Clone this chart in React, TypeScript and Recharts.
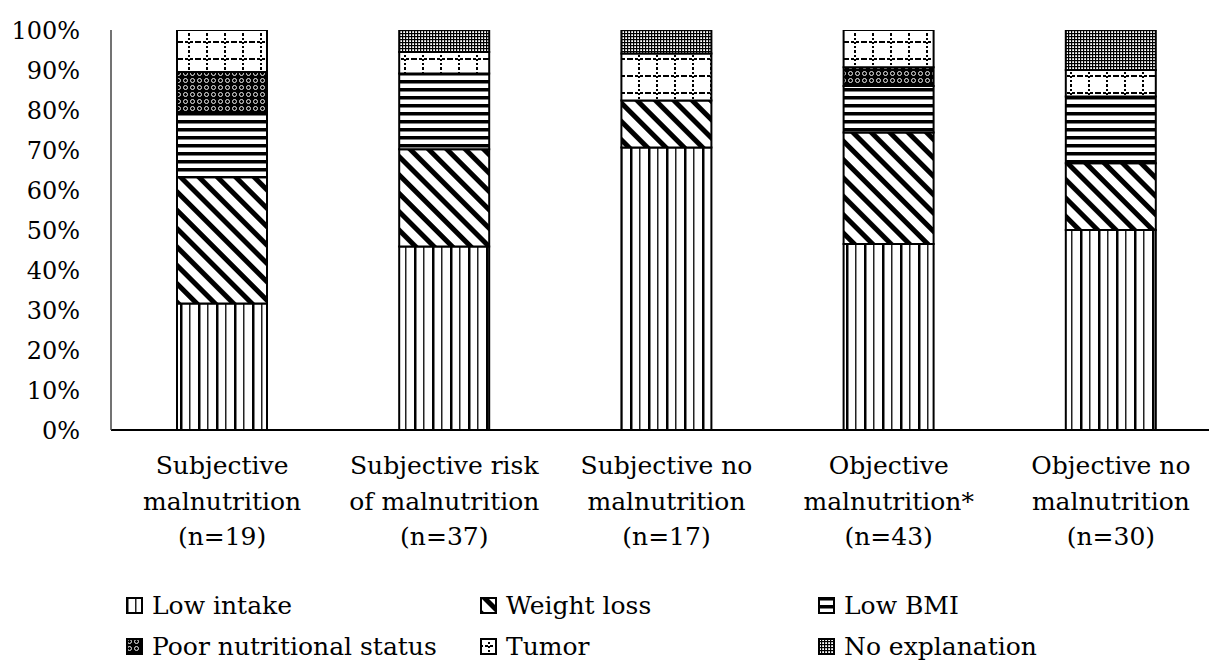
import { BarChart, Bar, XAxis, YAxis } from "recharts";

const categories = [
  "Subjective\nmalnutrition\n(n=19)",
  "Subjective risk\nof malnutrition\n(n=37)",
  "Subjective no\nmalnutrition\n(n=17)",
  "Objective\nmalnutrition*\n(n=43)",
  "Objective no\nmalnutrition\n(n=30)",
];

// percentages, stacked bottom -> top
const lowIntake = [31.6, 45.9, 70.6, 46.5, 50.0];
const weightLoss = [31.6, 24.3, 11.8, 27.9, 16.7];
const lowBmi = [15.8, 18.9, 0, 11.6, 16.7];
const poorStatus = [10.5, 0, 0, 4.7, 0];
const tumor = [10.5, 5.4, 11.7, 9.3, 6.6];
const noExplanation = [0, 5.5, 5.9, 0, 10.0];

const yTicks = [0, 10, 20, 30, 40, 50, 60, 70, 80, 90, 100];

const FONT = "'DejaVu Serif', serif";

const data = categories.map((name, i) => ({
  name,
  lowIntake: lowIntake[i],
  weightLoss: weightLoss[i],
  lowBmi: lowBmi[i],
  poorStatus: poorStatus[i],
  tumor: tumor[i],
  noExplanation: noExplanation[i],
}));

const series = [
  { key: "lowIntake", name: "Low intake", fill: "url(#pLow)" },
  { key: "weightLoss", name: "Weight loss", fill: "url(#pWeight)" },
  { key: "lowBmi", name: "Low BMI", fill: "url(#pBmi)" },
  { key: "poorStatus", name: "Poor nutritional status", fill: "url(#pPoor)" },
  { key: "tumor", name: "Tumor", fill: "url(#pTumor)" },
  { key: "noExplanation", name: "No explanation", fill: "url(#pNone)" },
];

// legend: 2 rows x 3 columns
const legendCols = [126, 480, 818];
const legendRows = [605, 646];

const Patterns = () => (
  <svg width={0} height={0} style={{ position: "absolute" }}>
    <defs>
      <pattern id="pLow" patternUnits="userSpaceOnUse" width={18} height={10}>
        <rect width={18} height={10} fill="#fff" />
        <rect x={0} width={2.5} height={10} fill="#000" />
        <rect x={9} width={1.5} height={10} fill="#222" />
      </pattern>
      <pattern
        id="pWeight"
        patternUnits="userSpaceOnUse"
        width={13}
        height={13}
        patternTransform="rotate(-45)"
      >
        <rect width={13} height={13} fill="#fff" />
        <rect x={0} width={5} height={13} fill="#000" />
      </pattern>
      <pattern id="pBmi" patternUnits="userSpaceOnUse" width={10} height={8}>
        <rect width={10} height={8} fill="#fff" />
        <rect y={0} width={10} height={3.5} fill="#000" />
      </pattern>
      <pattern id="pPoor" patternUnits="userSpaceOnUse" width={7} height={7}>
        <rect width={7} height={7} fill="#000" />
        <circle cx={3.5} cy={3.5} r={2} fill="none" stroke="#fff" strokeWidth={0.9} />
      </pattern>
      <pattern id="pTumor" patternUnits="userSpaceOnUse" width={18} height={17}>
        <rect width={18} height={17} fill="#fff" />
        <line x1={0} y1={8} x2={18} y2={8} stroke="#000" strokeWidth={2} strokeDasharray="3 2" />
        <line x1={9} y1={0} x2={9} y2={17} stroke="#000" strokeWidth={2} strokeDasharray="2 2" />
      </pattern>
      <pattern id="pNone" patternUnits="userSpaceOnUse" width={3} height={3}>
        <rect width={3} height={3} fill="#fff" />
        <rect width={3} height={1.2} fill="#000" />
        <rect width={1.2} height={3} fill="#000" />
      </pattern>
    </defs>
  </svg>
);

const XTick = ({ x, y, payload }: any) => {
  const lines = String(payload.value).split("\n");
  return (
    <text x={x} y={y} textAnchor="middle" fontFamily={FONT} fontSize={25} fill="#000">
      {lines.map((line, i) => (
        <tspan key={i} x={x} dy={i === 0 ? 36 : 35.5}>
          {line}
        </tspan>
      ))}
    </text>
  );
};

export default function App() {
  return (
    <div
      style={{
        position: "fixed",
        left: 0,
        top: 0,
        width: 1209,
        height: 661,
        overflow: "hidden",
        background: "#fff",
      }}
    >
      <Patterns />
      <BarChart
        width={1222}
        height={661}
        data={data}
        margin={{ top: 30, right: 0, bottom: 131, left: 0 }}
        barSize={90}
      >
        <XAxis
          dataKey="name"
          tick={<XTick />}
          tickLine={false}
          interval={0}
          height={100}
          axisLine={{ stroke: "#000", strokeWidth: 2 }}
        />
        <YAxis
          domain={[0, 100]}
          ticks={yTicks}
          width={111}
          tickLine={false}
          tickMargin={25}
          axisLine={{ stroke: "#444", strokeWidth: 1.5 }}
          tick={{ fontFamily: FONT, fontSize: 24, fill: "#000" }}
          tickFormatter={(v) => `${v}%`}
          allowDataOverflow
        />
        {series.map((s) => (
          <Bar
            key={s.key}
            dataKey={s.key}
            name={s.name}
            stackId="a"
            fill={s.fill}
            stroke="#000"
            strokeWidth={2}
            isAnimationActive={false}
          />
        ))}
      </BarChart>

      {series.map((s, i) => {
        const left = legendCols[i % 3];
        const top = legendRows[Math.floor(i / 3)];
        return (
          <div
            key={s.key}
            style={{
              position: "absolute",
              left,
              top: top - 16,
              height: 32,
              display: "flex",
              alignItems: "center",
              fontFamily: FONT,
              fontSize: 25,
              color: "#000",
              whiteSpace: "nowrap",
            }}
          >
            <svg width={17} height={17} style={{ marginRight: 9 }}>
              <rect x={1} y={1} width={15} height={15} fill={s.fill} stroke="#000" strokeWidth={2} />
            </svg>
            {s.name}
          </div>
        );
      })}
    </div>
  );
}
